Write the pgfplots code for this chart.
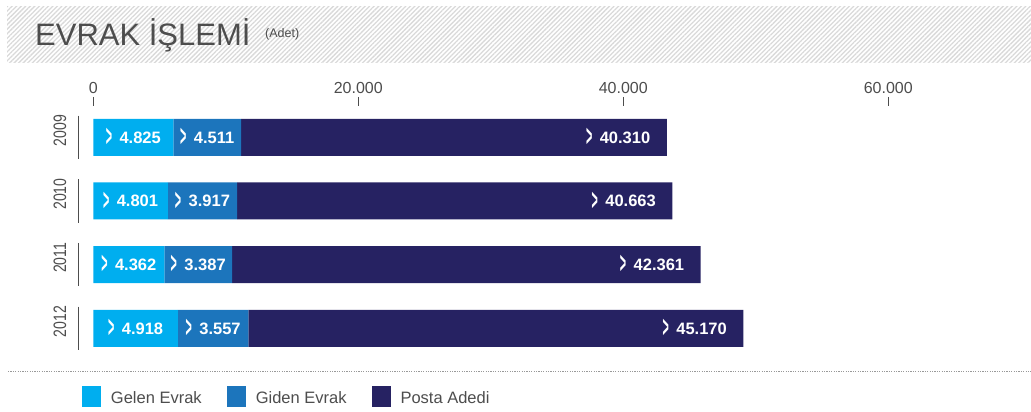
\documentclass[border=0pt]{standalone}
\usepackage{pgfplots}
\pgfplotsset{compat=1.18}
\usepackage{pgfplotstable}
\usepackage{fontspec}
\setmainfont{Liberation Sans}
\usetikzlibrary{patterns.meta}

\definecolor{gelen}{HTML}{00AEEF}
\definecolor{giden}{HTML}{1C75BC}
\definecolor{posta}{HTML}{262262}
\definecolor{txt}{HTML}{4D4D4D}

% drawn bar lengths and printed values
\pgfplotstableread{
idx gelen giden posta lg lgd lp
0 6040 5110 32130 4.825 4.511 40.310
1 5620 5230 32850 4.801 3.917 40.663
2 5360 5110 35370 4.362 3.387 42.361
3 6390 5310 37360 4.918 3.557 45.170
}\data

\newcommand\chev{\raisebox{-3.3pt}{\scalebox{0.65}[1.85]{\textgreater}}}

\pgfplotsset{
  geom/.style={
    at={(93.3pt,306pt)}, anchor=north west,
    scale only axis, width=927.5pt, height=254.1pt,
    xmin=0, xmax=70000, ymin=-0.4916, ymax=3.5, y dir=reverse,
    clip=false,
  },
  lab/.style={
    draw=none, mark=none, point meta=explicit symbolic,
    nodes near coords={\chev\hspace{7.5pt}\pgfplotspointmeta},
    every node near coord/.append style={font=\bfseries\fontsize{16.5}{19}\selectfont, text=white},
  },
}

\begin{document}
\begin{tikzpicture}[x=1pt,y=1pt]
\useasboundingbox (0,0) rectangle (1031,412);
% title band
\fill[pattern={Lines[angle=45,distance=3.2pt,line width=1.3pt]}, pattern color=black!15] (7,349) rectangle (1031,405);
\node[anchor=base west, inner sep=0pt, text=txt, font=\fontsize{31}{36}\selectfont] at (35,366) {EVRAK İŞLEMİ};
\node[anchor=base west, inner sep=0pt, text=txt, font=\fontsize{12.5}{15}\selectfont] at (265,374.6) {(Adet)};
% separator
\draw[black!40, line width=1pt, dash pattern=on 1.2pt off 1.2pt] (8,40.3) -- (1031,40.3);

\begin{axis}[geom,
  xbar stacked, bar width=37pt,
  axis line style={draw=none},
  xtick={0,20000,40000,60000},
  xticklabels={0,20.000,40.000,60.000},
  scaled x ticks=false,
  xtick pos=upper, xticklabel pos=upper,
  tick align=outside, major tick length=9pt,
  xtick style={draw=txt, line width=0.9pt},
  xticklabel style={font=\fontsize{16}{19}\selectfont, text=txt},
  /pgf/number format/assume math mode=true,
  ytick=\empty,
  legend columns=3,
  legend image code/.code={\fill[#1] (0pt,-8.4pt) rectangle (19pt,12.3pt);},
  legend style={at={(axis description cs:-0.0122,-0.1429)}, anchor=west,
    draw=none, fill=none, inner sep=0pt, outer sep=0pt,
    font=\fontsize{16.5}{19}\selectfont, text=txt,
    nodes={inner sep=0pt},
    /tikz/every odd column/.append style={column sep=10pt},
    /tikz/every even column/.append style={column sep=25pt}},
]
\addplot[fill=gelen, draw=none] table[x=gelen, y=idx] {\data};
\addlegendentry{Gelen Evrak}
\addplot[fill=giden, draw=none] table[x=giden, y=idx] {\data};
\addlegendentry{Giden Evrak}
\addplot[fill=posta, draw=none] table[x=posta, y=idx] {\data};
\addlegendentry{Posta Adedi}
\end{axis}

\begin{axis}[geom, hide axis]
\addplot[lab, every node near coord/.append style={anchor=center}]
  table[x expr=\thisrow{gelen}/2, y=idx, meta=lg] {\data};
\addplot[lab, every node near coord/.append style={anchor=center}]
  table[x expr=\thisrow{gelen}+\thisrow{giden}/2, y=idx, meta=lgd] {\data};
\addplot[lab, every node near coord/.append style={anchor=east, xshift=-13pt}]
  table[x expr=\thisrow{gelen}+\thisrow{giden}+\thisrow{posta}, y=idx, meta=lp] {\data};
\pgfplotsinvokeforeach{0,1,2,3}{
  \draw[txt, line width=1pt] (axis cs:-1132,#1-0.34) -- (axis cs:-1132,#1+0.34);
  \node[rotate=90, text=txt, font=\fontsize{18}{20}\selectfont, inner sep=0pt] at (axis cs:-2513,#1-0.107) {\scalebox{0.78}[1]{\the\numexpr2009+#1\relax}};
}
\end{axis}
\end{tikzpicture}
\end{document}
